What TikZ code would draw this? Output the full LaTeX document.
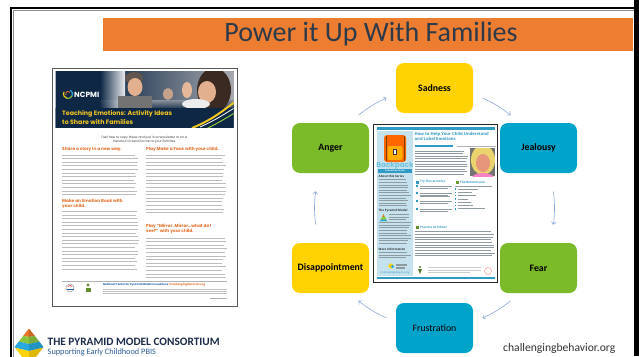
\documentclass[tikz,border=0pt]{standalone}
\usepackage{fontspec}
\setmainfont{Carlito}
\newfontfamily\popfont{Poppins}
\newfontfamily\opfont{Open Sans}
\usetikzlibrary{arrows.meta,calc}

\definecolor{titleorange}{HTML}{ED7D31}
\definecolor{titleink}{HTML}{2C3A4A}
\definecolor{emoyellow}{HTML}{FFD200}
\definecolor{emogreen}{HTML}{7BBA28}
\definecolor{emoblue}{HTML}{00A3C9}
\definecolor{cyclink}{HTML}{8EA9DB}
\definecolor{navy}{HTML}{0D2744}
\definecolor{flyorange}{HTML}{E2702A}
\definecolor{flyyellow}{HTML}{F3C623}
\definecolor{flyblue}{HTML}{1F5FA8}
\definecolor{bodygray}{HTML}{BDBDBD}
\definecolor{bpteal}{HTML}{2F9AC3}
\definecolor{bplight}{HTML}{6EC3DF}
\definecolor{bpside}{HTML}{C6E2EE}
\definecolor{sidegray}{HTML}{8E9CA2}
\definecolor{pmnavy}{HTML}{1C2B4A}
\definecolor{pmblue}{HTML}{2D5C9A}
\definecolor{pmorange}{HTML}{E8742A}
\definecolor{pmgreen}{HTML}{8CC63F}
\definecolor{pmteal}{HTML}{27A9E0}
\definecolor{pmyellow}{HTML}{FDD20E}
\definecolor{skin}{HTML}{E2B08F}
\definecolor{hairdark}{HTML}{3B2A22}

\tikzset{
  emo/.style={rounded corners=8pt, minimum width=77pt, minimum height=50pt,
    inner sep=0pt, text=black, font=\bfseries\fontsize{9.8}{11}\selectfont},
  cyc/.style={draw=cyclink, line width=0.6pt, -{To[length=3pt,width=5pt]}},
  bodyline/.style={draw=bodygray, line width=1pt},
  sideline/.style={draw=sidegray, line width=0.7pt},
  flyhead/.style={anchor=west, inner sep=0pt, align=left, text=flyorange,
    font=\popfont\bfseries\fontsize{4.3}{5.6}\selectfont},
  cdhead/.style={anchor=west, inner sep=0pt, text=bpteal,
    font=\opfont\bfseries\fontsize{3}{3.6}\selectfont},
  sidehead/.style={anchor=west, inner sep=0pt, text=black!80,
    font=\opfont\bfseries\fontsize{3}{3.6}\selectfont},
}

% rows of body copy: x-left, x-right, first y, step, last index, style
\newcommand\txtlines[6]{%
  \foreach \i in {0,...,#5}{%
    \pgfmathsetmacro\yy{#3+\i*#4}%
    \pgfmathsetmacro\xr{#2-rnd*5}%
    \draw[#6] (#1,\yy) -- (\xr,\yy);}}

\begin{document}
\begin{tikzpicture}[x=1pt,y=-1pt]
\pgfmathsetseed{7}
\useasboundingbox (0,0) rectangle (639,356);
\fill[white] (0,0) rectangle (639,356);

% slide frame
\draw[black, line width=2.4pt] (11,370) -- (11,8) -- (640,8);
\draw[black!45, line width=0.8pt] (13,370) -- (13,10.3) -- (634,10.3);
\fill[black] (634,0) rectangle (639,356);

% title band
\fill[titleorange] (103,18) rectangle (633,51);
\node[text=titleink, font=\fontsize{28}{30}\selectfont] (title) at (371,34.5) {Power it Up With Families};

% ---------- activity flyer ----------
\draw[black!65, line width=0.7pt, fill=white] (52,68) rectangle (237,306);
\begin{scope}
  \clip (55.5,71.5) rectangle (233.5,127);
  \fill[navy] (55,71) rectangle (234,128);
  \shade[left color=navy, right color={rgb,255:red,168;green,170;blue,176}] (100,71) rectangle (234,104);
  \shade[top color={rgb,255:red,140;green,146;blue,156}, bottom color=navy] (100,100) rectangle (234,110);
  \shade[left color=navy, right color=navy!0, opacity=0.9] (100,71) rectangle (125,110);
  % people in the photo
  \fill[black!55] (118,96) rectangle (152,110);
  \fill[hairdark!80] (134,78) ellipse [x radius=9, y radius=6];
  \fill[skin] (135,87) ellipse [x radius=7.5, y radius=9];
  \fill[skin!70!gray] (168,94) ellipse [x radius=5, y radius=6];
  \fill[hairdark] (214,90) ellipse [x radius=17, y radius=22];
  \fill[skin] (207,92) ellipse [x radius=9, y radius=11];
  \fill[skin!90!white] (187,90) ellipse [x radius=5, y radius=8];
  \fill[white!85!gray] (196,104) ellipse [x radius=14, y radius=5];
  % swoosh
  \fill[navy] (55,108) rectangle (234,128);
  \draw[flyyellow, line width=2pt] (192,128) .. controls (212,120) and (224,110) .. (236,101);
  \draw[white, line width=0.8pt] (200,127) .. controls (216,120) and (226,113) .. (236,107);
  \draw[pmgreen, line width=1pt] (206,129) .. controls (220,122) and (228,117) .. (236,112);
\end{scope}
% logo
\draw[pmyellow, line width=1.1pt] (68,94) ++(-150:4.5) arc[start angle=-150, end angle=-260, radius=4.5];
\draw[pmgreen, line width=1.1pt] (68,94) ++(-260:4.5) arc[start angle=-260, end angle=-340, radius=4.5];
\draw[pmteal, line width=1.1pt] (68,94) ++(20:4.5) arc[start angle=20, end angle=-60, radius=4.5];
\draw[pmorange, line width=0.9pt] (68,94) ++(-40:2.5) arc[start angle=-40, end angle=-200, radius=2.5];
\node[anchor=west, inner sep=0pt, text=white, font=\popfont\bfseries\fontsize{7.5}{8}\selectfont] (ncpmi) at (74,94.5) {NCPMI};
\node[anchor=west, inner sep=0pt, align=left, text=flyyellow, font=\popfont\bfseries\fontsize{6.3}{9}\selectfont] (flytitle) at (62,117.5) {Teaching Emotions: Activity Ideas\\to Share with Families};

\node[align=center, inner sep=0pt, text=black!75, font=\popfont\fontsize{3.2}{4.6}\selectfont] (flynote) at (144.5,139.8) {Feel free to copy these and put in a newsletter or on a\\handout to send home to your families.};

\node[flyhead] (storyhead) at (62,149.5) {Share a story in a new way.};
\txtlines{62}{139}{155}{3.6}{11}{bodyline}
\node[flyhead] (bookhead) at (62,204) {Make an Emotion Book with\\your child.};
\txtlines{62}{139}{211.5}{3.6}{16}{bodyline}

\node[flyhead] (facehead) at (146,149.5) {Play Make a Face with your child.};
\txtlines{146}{227}{155}{3.6}{16}{bodyline}
\node[flyhead] (mirrorhead) at (146,229) {Play “Mirror, Mirror…what do I\\see?” with your child.};
\txtlines{146}{227}{238}{3.6}{11}{bodyline}

% flyer footer
\draw[black!30, line width=0.4pt] (62,281) -- (227,281);
\draw[black!40, line width=0.5pt] (70,288) circle [radius=4];
\draw[red!70, line width=0.7pt] (70,288) ++(-30:2.5) arc[start angle=-30, end angle=-150, radius=2.5];
\draw[flyblue, line width=0.6pt] (66.5,289) -- (73.5,289);
\fill[pmgreen!70!black] (88,285) circle [radius=1.6];
\fill[pmgreen!70!black] (86,288) rectangle (91,292);
\node[anchor=west, inner sep=0pt, font=\popfont\bfseries\fontsize{2.7}{3}\selectfont] (flyfoot) at (103,285) {\textcolor{flyblue}{National Center for Pyramid Model Innovations} \textcolor{flyorange}{| ChallengingBehavior.org}};
\foreach \yy in {289.5,291.5,293.5} \draw[black!25, line width=0.8pt] (103,\yy) -- (227,\yy);
\draw[black!30, line width=0.8pt] (210,298) -- (227,298);

% ---------- backpack handout ----------
\draw[black!85, line width=0.9pt, fill=white] (373.5,124) rectangle (497.5,282);
\fill[bpteal] (377,127) rectangle (495,129.5);
\fill[bpside] (377,131) rectangle (413,276);
% backpack picture
\fill[orange!80!red, rounded corners=3pt] (384,135) rectangle (406,162);
\fill[orange!65!yellow, rounded corners=2pt] (387.5,146) rectangle (402.5,160);
\draw[orange!50!black, line width=0.6pt] (386,136) -- (386,161) (404,136) -- (404,161);
\fill[black!80] (393,149) rectangle (397,155);
\fill[white] (394.2,150.3) rectangle (395.8,153.5);
\node[inner sep=0pt, text=bplight, font=\popfont\bfseries\fontsize{7.2}{8}\selectfont] (bptitle) at (395,165.5) {Backpack};
\fill[bpteal] (378,169.2) rectangle (412,172.6);
\node[inner sep=0pt, text=white, font=\opfont\bfseries\fontsize{2.2}{2.5}\selectfont] (bpseries) at (395,170.9) {Connection Series};
% sidebar
\node[sidehead] (aboutseries) at (378.5,176.5) {About this Series};
\txtlines{378.5}{411}{179.8}{2.6}{10}{sideline}
\node[sidehead] (pyrhead) at (378.5,211) {The Pyramid Model};
\fill[pmgreen] (380,221) -- (383.5,214) -- (387,221) -- cycle;
\fill[pmteal] (380.8,219.5) -- (386.2,219.5) -- (387,221) -- (380,221) -- cycle;
\fill[pmorange] (382.6,216.8) -- (383.5,214) -- (384.4,216.8) -- cycle;
\txtlines{389}{411}{214.5}{2.6}{2}{sideline}
\txtlines{378.5}{411}{222.5}{2.6}{8}{sideline}
\node[sidehead] (morehead) at (378.5,249) {More Information};
\txtlines{378.5}{411}{252.5}{2.6}{2}{sideline}
\fill[pmyellow] (391,266) circle [radius=2.6];
\fill[pmteal] (392.5,266.5) circle [radius=1.6];
\draw[sidegray, line width=1.2pt] (396,265) -- (407,265) (396,268) -- (405,268);
\node[inner sep=0pt, text=bpteal, font=\opfont\fontsize{2.6}{3}\selectfont] (cbsite) at (395,273.3) {challengingbehavior.org};
% main column
\node[anchor=north west, inner sep=0pt, align=left, text=bpteal, font=\opfont\bfseries\fontsize{4.2}{5.6}\selectfont] (cdtitle) at (414.5,132) {How to Help Your Child Understand\\and Label Emotions};
\fill[bpteal] (415,145.3) rectangle (453,147);
\draw[black!30, line width=0.6pt] (457,146.2) -- (496,146.2);
\txtlines{415}{468}{151}{2.6}{9}{sideline}
\begin{scope}
  \clip (470,148) rectangle (495,176);
  \fill[black!55] (470,148) rectangle (495,176);
  \fill[yellow!50!brown!70!white] (483,160) ellipse [x radius=12, y radius=15];
  \fill[skin!85!red] (483,163) ellipse [x radius=7, y radius=9];
  \fill[magenta!50!white] (483,178) ellipse [x radius=11, y radius=5];
\end{scope}
\fill[bpteal] (415.5,180.5) rectangle (418.5,183.5);
\node[cdhead] (tryhome) at (420,182) {Try This at Home};
\foreach \yy in {186,193,201,209} {
  \fill[bpteal] (416,\yy-0.8) rectangle (417.6,\yy+0.8);
  \draw[sideline] (419.5,\yy) -- (452,\yy);
  \draw[sideline] (419.5,\yy+2.6) -- (448,\yy+2.6);}
\draw[sideline] (419.5,196.8) -- (450,196.8);
\fill[pmgreen!80!black] (455.5,180.5) rectangle (458.5,183.5);
\node[cdhead] (bottomline) at (460,182) {The Bottom Line};
\draw[sideline] (455,186) -- (492,186);
\foreach \yy/\ll in {189/478,192.3/472,195.6/476,198.9/468,202.2/471,205.5/473,208.8/485} {
  \fill[bpteal] (455,\yy-0.7) rectangle (456.4,\yy+0.7);
  \draw[sideline] (458,\yy) -- (\ll,\yy);}
\fill[pmgreen!70!black] (415.5,225.5) rectangle (418.5,228.5);
\node[cdhead] (practice) at (420,227) {Practice at School};
\txtlines{415}{495}{231.5}{2.7}{9}{sideline}
% handout footer
\fill[pmgreen!60!black] (420,267) circle [radius=1.2];
\fill[pmgreen!60!black] (418,269) -- (420,274) -- (422,269) -- cycle;
\draw[black!20, line width=0.6pt] (428,267.5) -- (481,267.5) (428,270) -- (481,270) (428,272.5) -- (470,272.5);
\draw[red!40, line width=0.5pt] (488,271) circle [radius=3.5];
\fill[bpteal] (377,276.5) rectangle (495,278.6);

% ---------- emotion cycle ----------
\node[emo, fill=emoyellow] (sadness) at (434.5,88) {Sadness};
\node[emo, fill=emoblue] (jealousy) at (538.5,148) {Jealousy};
\node[emo, fill=emogreen] (fear) at (538.5,268) {Fear};
\node[emo, fill=emoblue, font=\fontsize{9.8}{11}\selectfont] (frustration) at (434.5,328) {Frustration};
\node[emo, fill=emoyellow] (disappointment) at (330.5,268) {Disappointment};
\node[emo, fill=emogreen] (anger) at (330.5,148) {Anger};

% y grows downward here, so angles run clockwise on the page
\coordinate (hub) at (434.5,208);
\foreach \s/\e in {-129.3/-113.6, -66.4/-50.7, -8/8, 50.7/66.4, 113.6/129.3, -188/-172}
  \draw[cyc] ($(hub)+(\s:120)$) arc[start angle=\s, end angle=\e, radius=120];

% ---------- consortium mark ----------
\begin{scope}
  \clip (29,328.5) -- (43.5,347) -- (29,366) -- (14.5,347) -- cycle;
  \fill[pmorange] (10,320) -- (48,320) -- (48,333) -- (29,337) -- (10,333) -- cycle;
  \fill[pmgreen] (10,333) -- (29,337) -- (48,333) -- (48,339.5) -- (29,344) -- (10,339.5) -- cycle;
  \fill[pmteal] (10,339.5) -- (29,344) -- (48,339.5) -- (48,346.5) -- (29,351) -- (10,346.5) -- cycle;
  \fill[pmyellow] (10,346.5) -- (29,351) -- (48,346.5) -- (48,370) -- (10,370) -- cycle;
  \fill[black, opacity=0.12] (29,320) rectangle (48,370);
\end{scope}
\node[anchor=base west, inner sep=0pt, text=pmnavy, font=\bfseries\fontsize{11.3}{12}\selectfont] (pmname) at (47.5,345) {THE PYRAMID MODEL CONSORTIUM};
\node[anchor=base west, inner sep=0pt, text=pmblue, font=\fontsize{8.3}{9}\selectfont] (pmtag) at (47.5,354.5) {Supporting Early Childhood PBIS};

\node[anchor=west, inner sep=0pt, text=black!80, font=\fontsize{11.6}{12}\selectfont] (site) at (503,348) {challengingbehavior.org};
\end{tikzpicture}
\end{document}
